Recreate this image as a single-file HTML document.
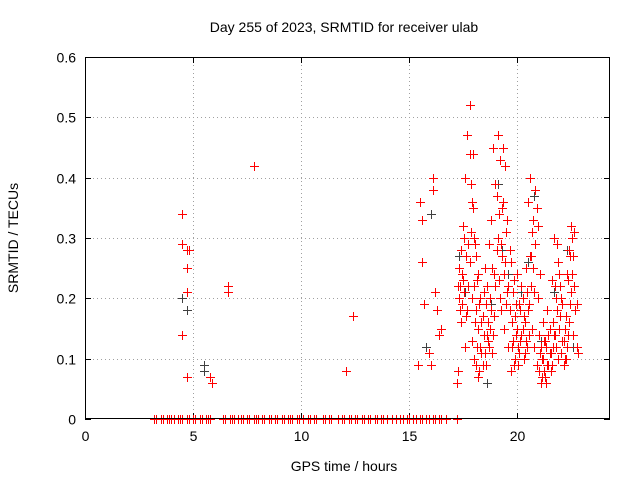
<!DOCTYPE html>
<html><head><meta charset="utf-8"><style>
body{margin:0;background:#fff;}
svg{display:block;font-family:"Liberation Sans",sans-serif;}
</style></head><body>
<svg id="chart" width="640" height="480">
<text x="344" y="32" text-anchor="middle" font-size="14">Day 255 of 2023, SRMTID for receiver ulab</text>
<text x="344" y="471" text-anchor="middle" font-size="14">GPS time / hours</text>
<text transform="translate(18,238) rotate(-90)" text-anchor="middle" font-size="14">SRMTID / TECUs</text>
<g id="grid"></g><g id="axes"></g><g id="marks"></g>
<rect x="85.5" y="57.5" width="524" height="361" fill="none" stroke="#000"/>
</svg>
<script>
const xTicks=[0,5,10,15,20];
const yTicks=[0,0.1,0.2,0.3,0.4,0.5,0.6];
const yTickLabels=["0","0.1","0.2","0.3","0.4","0.5","0.6"];
const zeroTimes=[3.2,3.3,3.5,3.6,3.8,3.9,4.0,4.1,4.3,4.4,4.5,4.7,4.8,5.0,5.1,5.3,5.4,5.6,5.7,5.8,6.4,6.5,6.7,6.8,6.9,7.1,7.2,7.3,7.5,7.6,7.8,7.9,8.0,8.2,8.3,8.5,8.6,8.8,8.9,9.1,9.2,9.4,9.5,9.6,9.8,9.9,10.1,10.3,10.4,10.6,10.7,11.0,11.1,11.3,11.4,11.7,11.9,12.0,12.2,12.3,12.5,12.6,12.8,12.9,13.1,13.2,13.4,13.5,13.7,13.8,14.0,14.2,14.4,14.6,14.7,14.9,15.0,15.2,15.3,15.5,15.6,15.8,15.9,16.1,16.2,16.4,16.5,16.7,17.2];
const redTimes=[4.5,4.5,4.5,4.7,4.7,4.7,4.7,4.8,5.8,5.9,6.6,6.6,7.8,12.1,12.4,15.4,15.5,15.6,15.6,15.7,15.9,16.0,16.1,16.1,16.2,16.3,16.4,16.5,17.2,17.3,17.3,17.4,17.4,17.5,17.5,17.6,17.6,17.7,17.7,17.8,17.8,17.8,17.9,17.9,17.9,18.0,18.0,18.0,18.1,18.1,18.1,18.2,18.2,18.2,18.3,18.3,18.4,18.4,18.5,18.5,18.6,18.6,18.7,18.7,18.8,18.8,18.9,18.9,19.0,19.0,19.1,19.1,19.2,19.2,19.3,19.3,19.4,19.4,19.5,19.5,19.6,19.6,19.7,19.7,19.8,19.8,19.9,19.9,20.0,20.0,20.1,20.1,20.2,20.2,20.3,20.3,20.4,20.4,20.5,20.5,20.6,20.6,20.7,20.7,20.8,20.8,20.9,20.9,21.0,21.0,21.1,21.1,21.2,21.2,21.3,21.3,21.4,21.4,21.5,21.5,21.6,21.6,21.7,21.7,21.8,21.8,21.9,21.9,22.0,22.0,22.1,22.1,22.2,22.2,22.3,22.3,22.4,22.4,22.5,22.5,22.6,22.6,22.7,22.8,
17.25,17.25,17.35,17.35,17.45,17.45,17.55,17.55,17.65,17.65,17.75,17.75,17.85,17.85,17.95,17.95,18.05,18.05,18.15,18.15,18.25,18.25,18.35,18.35,18.45,18.45,18.55,18.55,18.65,18.65,18.75,18.75,18.85,18.85,18.95,18.95,19.05,19.05,19.15,19.15,19.25,19.25,19.35,19.35,19.45,19.45,19.55,19.55,19.65,19.65,19.75,19.75,19.85,19.85,19.95,19.95,20.05,20.05,20.15,20.15,20.25,20.25,20.35,20.35,20.45,20.45,20.55,20.55,20.65,20.65,20.75,20.75,20.85,20.85,20.95,20.95,21.05,21.05,21.15,21.15,21.25,21.25,21.35,21.35,21.45,21.45,21.55,21.55,21.65,21.65,21.75,21.75,21.85,21.85,21.95,21.95,22.05,22.05,22.15,22.15,22.25,22.25,22.35,22.35,22.45,22.45,22.55,22.55,22.65,22.65,22.75,22.75];
const redValues=[0.34,0.29,0.14,0.28,0.25,0.21,0.07,0.28,0.07,0.06,0.22,0.21,0.42,0.08,0.17,0.09,0.36,0.33,0.26,0.19,0.11,0.09,0.38,0.40,0.21,0.18,0.14,0.15,0.06,0.25,0.20,0.28,0.16,0.32,0.23,0.40,0.12,0.47,0.18,0.52,0.44,0.26,0.36,0.20,0.13,0.30,0.10,0.22,0.09,0.18,0.27,0.07,0.15,0.24,0.12,0.20,0.09,0.17,0.11,0.25,0.22,0.14,0.29,0.12,0.18,0.33,0.14,0.45,0.39,0.22,0.47,0.30,0.43,0.20,0.35,0.27,0.24,0.15,0.19,0.31,0.12,0.22,0.08,0.26,0.13,0.21,0.17,0.10,0.15,0.24,0.11,0.19,0.14,0.22,0.10,0.17,0.13,0.25,0.36,0.18,0.40,0.27,0.31,0.15,0.21,0.12,0.35,0.09,0.14,0.08,0.06,0.12,0.10,0.16,0.07,0.13,0.09,0.18,0.11,0.15,0.23,0.09,0.30,0.14,0.20,0.12,0.26,0.10,0.17,0.22,0.13,0.19,0.10,0.15,0.24,0.12,0.28,0.16,0.32,0.21,0.27,0.14,0.18,0.11,0.22,0.08,
0.22,0.18,0.24,0.19,0.21,0.30,0.27,0.17,0.29,0.22,0.39,0.31,0.44,0.35,0.29,0.16,0.23,0.12,0.19,0.08,0.16,0.11,0.21,0.14,0.19,0.09,0.16,0.13,0.20,0.15,0.25,0.11,0.24,0.17,0.37,0.28,0.34,0.23,0.29,0.18,0.45,0.36,0.42,0.26,0.33,0.21,0.28,0.18,0.16,0.12,0.23,0.09,0.19,0.14,0.12,0.09,0.18,0.13,0.20,0.15,0.16,0.11,0.21,0.12,0.19,0.14,0.27,0.22,0.33,0.25,0.38,0.29,0.32,0.20,0.24,0.11,0.10,0.07,0.13,0.08,0.12,0.06,0.14,0.09,0.11,0.08,0.16,0.12,0.22,0.14,0.29,0.18,0.24,0.15,0.20,0.11,0.13,0.09,0.17,0.10,0.23,0.14,0.27,0.19,0.30,0.24,0.31,0.22,0.19,0.12,0.14,0.10];
const grayTimes=[4.5,4.7,5.5,5.5,15.8,16.0,17.3,17.6,17.9,18.2,18.6,18.8,19.1,19.3,19.6,19.9,20.2,20.5,20.8,21.1,21.4,21.7,22.0,22.3,22.6];
const grayValues=[0.20,0.18,0.09,0.08,0.12,0.34,0.27,0.21,0.36,0.15,0.06,0.19,0.39,0.28,0.24,0.10,0.21,0.26,0.37,0.13,0.09,0.21,0.17,0.28,0.12];

const L=85,T=57,R=610,B=419,XMAX=24.3,YMAX=0.6;
const sx=v=>L+v/XMAX*(R-L), sy=v=>B-v/YMAX*(B-T);
const NS="http://www.w3.org/2000/svg";
const mk=(tag,attrs,parent)=>{const e=document.createElementNS(NS,tag);for(const k in attrs)e.setAttribute(k,attrs[k]);parent.appendChild(e);return e;};
const grid=document.getElementById('grid'),axes=document.getElementById('axes'),marks=document.getElementById('marks');
const px=v=>Math.round(v)+0.5;
xTicks.forEach(t=>{const x=px(sx(t));
 if(t>0){const g=mk('line',{x1:x,y1:T,x2:x,y2:B,stroke:'#a0a0a0','stroke-dasharray':'1,3'},grid);
 }
 const tk=mk('path',{d:`M${x},${B}v-6M${x},${T}v6`,stroke:'#000'},axes);
 
 const lb=mk('text',{x:x,y:B+22,'text-anchor':'middle','font-size':'14'},axes);lb.textContent=t;
 });
yTicks.forEach((t,i)=>{const y=px(sy(t));
 if(t>0&&t<YMAX){const g=mk('line',{x1:L,y1:y,x2:R,y2:y,stroke:'#a0a0a0','stroke-dasharray':'1,3'},grid);
 }
 const tk=mk('path',{d:`M${L},${y}h6M${R},${y}h-6`,stroke:'#000'},axes);
 
 const lb=mk('text',{x:L-9,y:y+5,'text-anchor':'end','font-size':'14'},axes);lb.textContent=yTickLabels[i];
 });
function plus(t,v,c,name){const x=Math.round(sx(t)),y=Math.round(sy(v));
 const g=mk('g',{fill:c},marks);
 
 
 mk('rect',{x:x-4,y:y,width:9,height:1},g);
 mk('rect',{x:x,y:y-4,width:1,height:9},g);}
grayTimes.forEach((t,i)=>plus(t,grayValues[i],'#404040','gray-point'));
zeroTimes.forEach(t=>plus(t,0,'#ff0000','zero-point'));
redTimes.forEach((t,i)=>plus(t,redValues[i],'#ff0000','red-point'));
</script>
</body></html>
